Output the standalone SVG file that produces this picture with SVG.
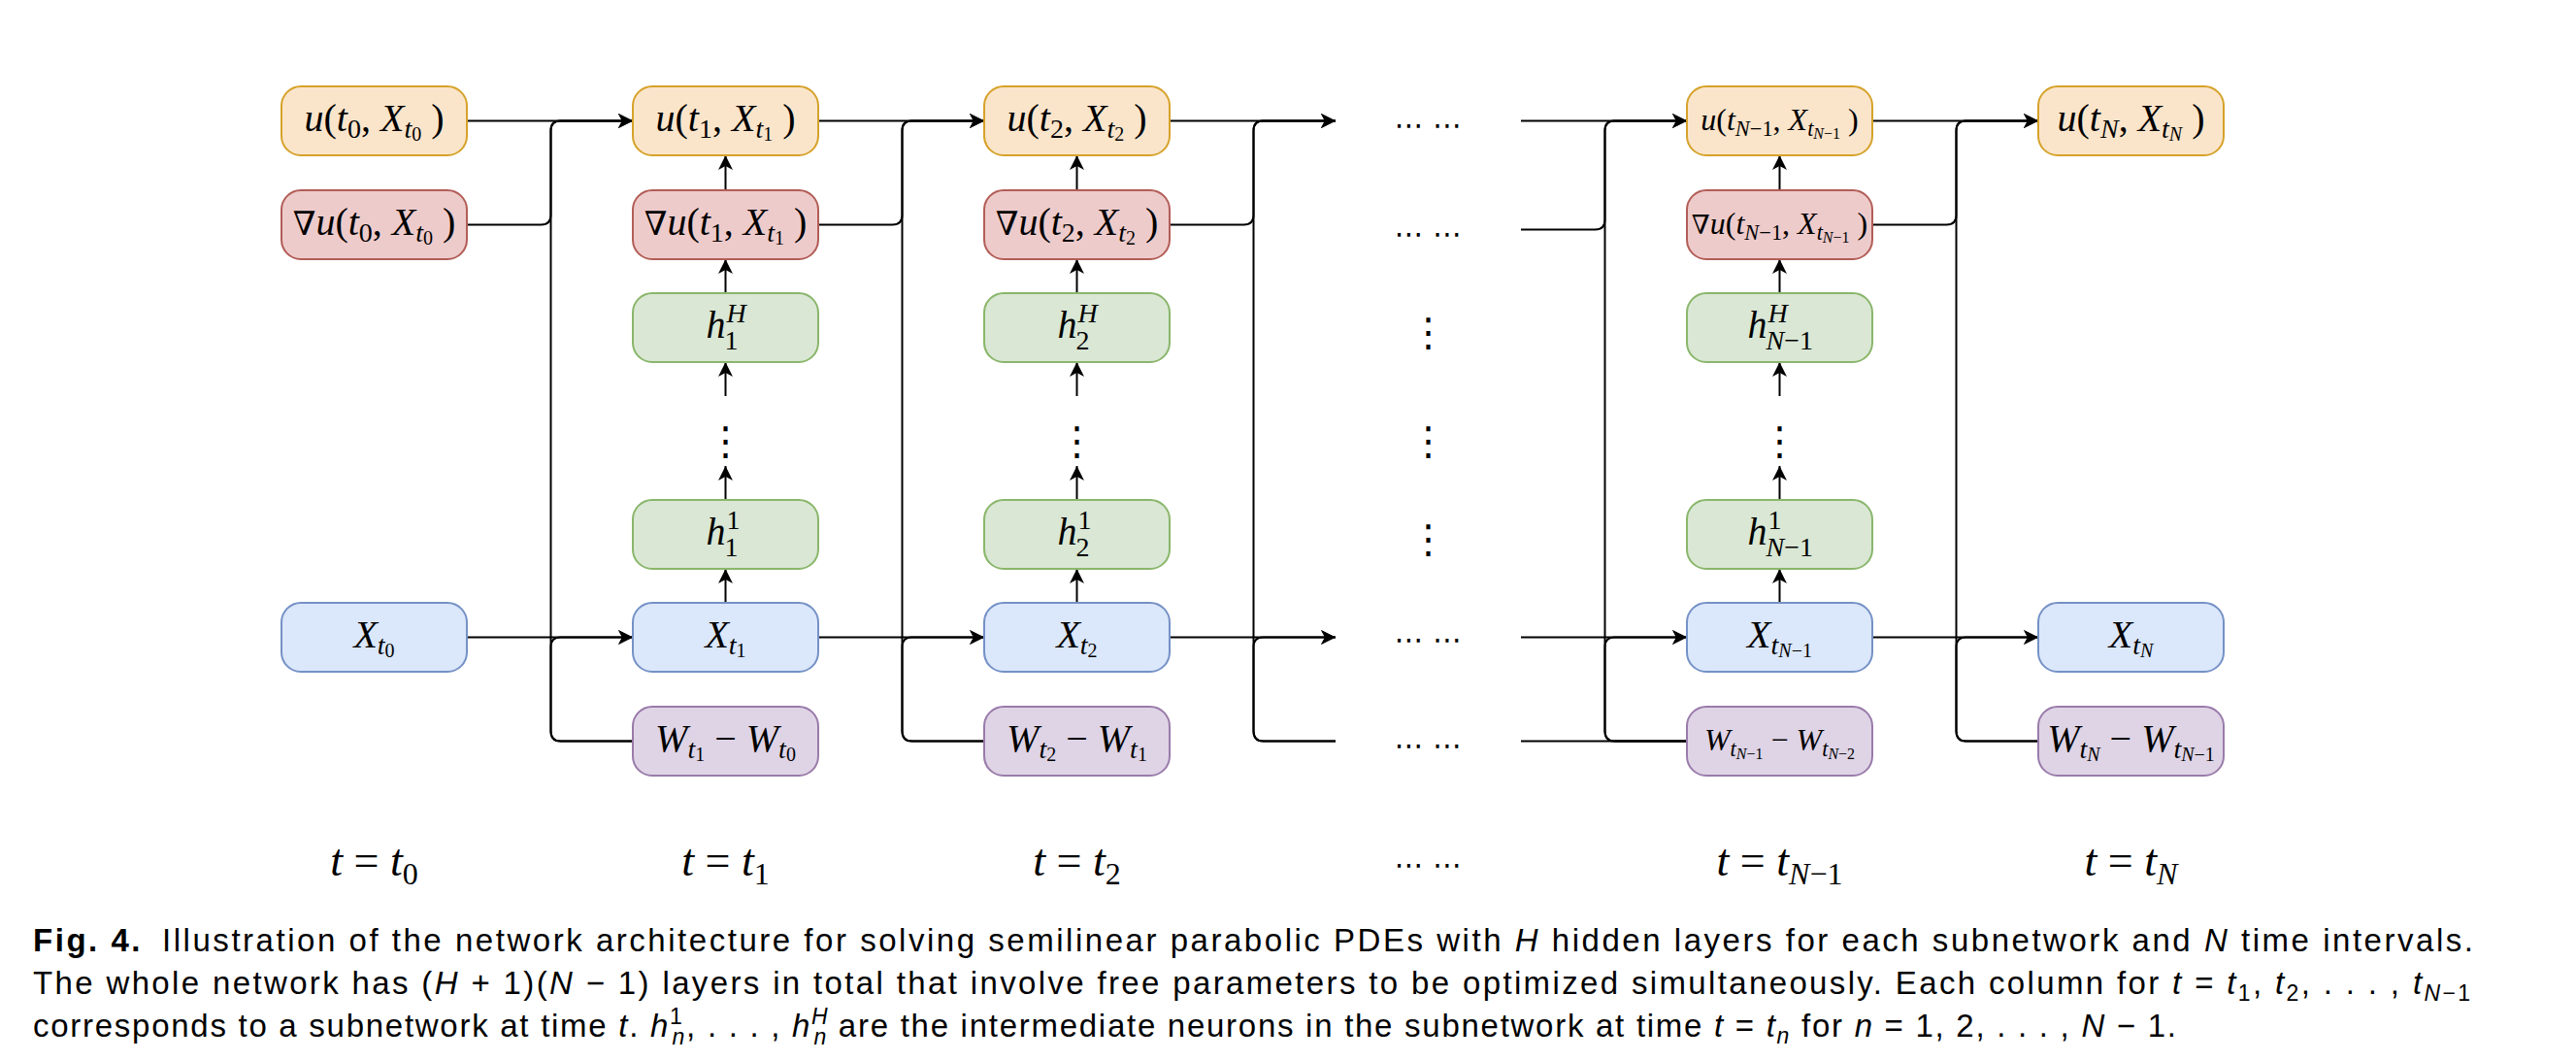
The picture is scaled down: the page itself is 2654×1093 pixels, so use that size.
<svg xmlns="http://www.w3.org/2000/svg" width="2654" height="1093" viewBox="0 0 2654 1093">
<defs>
<marker id="ar" markerUnits="userSpaceOnUse" markerWidth="16" markerHeight="16" refX="15" refY="7.5" orient="auto">
<path d="M0,0 L15,7.5 L0,15 L4,7.5 Z" fill="#000"/>
</marker>
<style>
.o{fill:#fae5cb;stroke:#d6a22a;stroke-width:2}
.r{fill:#eecbcb;stroke:#b25d57;stroke-width:2}
.g{fill:#d9e7d4;stroke:#8ab66b;stroke-width:2}
.b{fill:#dbe7fa;stroke:#7591c6;stroke-width:2}
.p{fill:#ded4e6;stroke:#9a7baa;stroke-width:2}
.m{font-family:"Liberation Serif","Times New Roman",serif;font-size:40px;fill:#000}
.m2{font-family:"Liberation Serif","Times New Roman",serif;font-size:32px;fill:#000}
.i{font-style:italic}
.n{font-family:"DejaVu Serif",serif;font-size:0.85em}
.s{font-size:28px}
.ss{font-size:20px}
.s2{font-size:22.4px}
.ss2{font-size:16px}
.t{font-family:"Liberation Serif","Times New Roman",serif;font-size:46px;fill:#000}
.ts{font-size:32px}
.dots{font-family:"DejaVu Sans",sans-serif;font-size:30px;fill:#000}
.vd{font-family:"DejaVu Sans",sans-serif;font-size:40px;fill:#000}
.c{font-family:"Liberation Sans",Arial,sans-serif;font-size:33px;fill:#000}
.ci{font-style:italic}
.cs{font-size:23px}
.e{fill:none;stroke:#000;stroke-width:2}
.ea{fill:none;stroke:#000;stroke-width:2;marker-end:url(#ar)}
</style>
</defs>
<rect width="2654" height="1093" fill="#fff"/>

<g id="connectors">
<path class="ea" d="M481,124.5 H652"/>
<path class="ea" d="M481,231.5 H557.5 Q567.5,231.5 567.5,221.5 V134.5 Q567.5,124.5 577.5,124.5 H652"/>
<path class="ea" d="M481,656.5 H652"/>
<path class="ea" d="M652,763.5 H577.5 Q567.5,763.5 567.5,753.5 V666.5 Q567.5,656.5 577.5,656.5 H652"/>
<path class="ea" d="M652,763.5 H577.5 Q567.5,763.5 567.5,753.5 V134.5 Q567.5,124.5 577.5,124.5 H652"/>
<path class="ea" d="M843,124.5 H1014"/>
<path class="ea" d="M843,231.5 H919.5 Q929.5,231.5 929.5,221.5 V134.5 Q929.5,124.5 939.5,124.5 H1014"/>
<path class="ea" d="M843,656.5 H1014"/>
<path class="ea" d="M1014,763.5 H939.5 Q929.5,763.5 929.5,753.5 V666.5 Q929.5,656.5 939.5,656.5 H1014"/>
<path class="ea" d="M1014,763.5 H939.5 Q929.5,763.5 929.5,753.5 V134.5 Q929.5,124.5 939.5,124.5 H1014"/>
<path class="ea" d="M1205,124.5 H1376"/>
<path class="ea" d="M1205,231.5 H1281.5 Q1291.5,231.5 1291.5,221.5 V134.5 Q1291.5,124.5 1301.5,124.5 H1376"/>
<path class="ea" d="M1205,656.5 H1376"/>
<path class="ea" d="M1376,763.5 H1301.5 Q1291.5,763.5 1291.5,753.5 V666.5 Q1291.5,656.5 1301.5,656.5 H1376"/>
<path class="ea" d="M1376,763.5 H1301.5 Q1291.5,763.5 1291.5,753.5 V134.5 Q1291.5,124.5 1301.5,124.5 H1376"/>
<path class="ea" d="M1567,124.5 H1738"/>
<path class="ea" d="M1567,236.5 H1643.5 Q1653.5,236.5 1653.5,226.5 V134.5 Q1653.5,124.5 1663.5,124.5 H1738"/>
<path class="ea" d="M1567,656.5 H1738"/>
<path class="e" d="M1567,763.5 H1738"/>
<path class="ea" d="M1738,763.5 H1663.5 Q1653.5,763.5 1653.5,753.5 V666.5 Q1653.5,656.5 1663.5,656.5 H1738"/>
<path class="ea" d="M1738,763.5 H1663.5 Q1653.5,763.5 1653.5,753.5 V134.5 Q1653.5,124.5 1663.5,124.5 H1738"/>
<path class="ea" d="M1929,124.5 H2100"/>
<path class="ea" d="M1929,231.5 H2005.5 Q2015.5,231.5 2015.5,221.5 V134.5 Q2015.5,124.5 2025.5,124.5 H2100"/>
<path class="ea" d="M1929,656.5 H2100"/>
<path class="ea" d="M2100,763.5 H2025.5 Q2015.5,763.5 2015.5,753.5 V666.5 Q2015.5,656.5 2025.5,656.5 H2100"/>
<path class="ea" d="M2100,763.5 H2025.5 Q2015.5,763.5 2015.5,753.5 V134.5 Q2015.5,124.5 2025.5,124.5 H2100"/>
<path class="ea" d="M747.5,196 V160"/>
<path class="ea" d="M747.5,302 V267"/>
<path class="ea" d="M747.5,408 V373"/>
<path class="ea" d="M747.5,515 V480"/>
<path class="ea" d="M747.5,621 V586"/>
<path class="ea" d="M1109.5,196 V160"/>
<path class="ea" d="M1109.5,302 V267"/>
<path class="ea" d="M1109.5,408 V373"/>
<path class="ea" d="M1109.5,515 V480"/>
<path class="ea" d="M1109.5,621 V586"/>
<path class="ea" d="M1833.5,196 V160"/>
<path class="ea" d="M1833.5,302 V267"/>
<path class="ea" d="M1833.5,408 V373"/>
<path class="ea" d="M1833.5,515 V480"/>
<path class="ea" d="M1833.5,621 V586"/>
</g>

<g id="u0"><rect class="o" x="290" y="89" width="191" height="71" rx="20"/>
<text class="m" x="385.5" y="135" text-anchor="middle"><tspan class="i">u</tspan>(<tspan class="i">t</tspan><tspan class="s" dy="7">0</tspan><tspan dy="-7">, </tspan><tspan class="i">X</tspan><tspan class="s i" dy="7">t</tspan><tspan class="ss" dy="3">0</tspan><tspan dy="-10"> )</tspan></text></g>
<g id="gu0"><rect class="r" x="290" y="196" width="191" height="71" rx="20"/>
<text class="m" x="385.5" y="242" text-anchor="middle"><tspan class="n">∇</tspan><tspan class="i">u</tspan>(<tspan class="i">t</tspan><tspan class="s" dy="7">0</tspan><tspan dy="-7">, </tspan><tspan class="i">X</tspan><tspan class="s i" dy="7">t</tspan><tspan class="ss" dy="3">0</tspan><tspan dy="-10"> )</tspan></text></g>
<g id="x0"><rect class="b" x="290" y="621" width="191" height="71" rx="20"/>
<text class="m" x="385.5" y="667" text-anchor="middle"><tspan class="i">X</tspan><tspan class="s i" dy="7">t</tspan><tspan class="ss" dy="3">0</tspan></text></g>

<g id="u1"><rect class="o" x="652" y="89" width="191" height="71" rx="20"/>
<text class="m" x="747.5" y="135" text-anchor="middle"><tspan class="i">u</tspan>(<tspan class="i">t</tspan><tspan class="s" dy="7">1</tspan><tspan dy="-7">, </tspan><tspan class="i">X</tspan><tspan class="s i" dy="7">t</tspan><tspan class="ss" dy="3">1</tspan><tspan dy="-10"> )</tspan></text></g>
<g id="gu1"><rect class="r" x="652" y="196" width="191" height="71" rx="20"/>
<text class="m" x="747.5" y="242" text-anchor="middle"><tspan class="n">∇</tspan><tspan class="i">u</tspan>(<tspan class="i">t</tspan><tspan class="s" dy="7">1</tspan><tspan dy="-7">, </tspan><tspan class="i">X</tspan><tspan class="s i" dy="7">t</tspan><tspan class="ss" dy="3">1</tspan><tspan dy="-10"> )</tspan></text></g>
<g id="hH1"><rect class="g" x="652" y="302" width="191" height="71" rx="20"/>
<text class="m i" x="727.5" y="348">h</text><text class="m i s" x="748.5" y="332">H</text><text class="m s" x="746.5" y="360">1</text></g>
<g id="vd1"><text class="vd" x="747.5" y="468" text-anchor="middle">⋮</text></g>
<g id="h11"><rect class="g" x="652" y="515" width="191" height="71" rx="20"/>
<text class="m i" x="727.5" y="561">h</text><text class="m s" x="748.5" y="545">1</text><text class="m s" x="746.5" y="573">1</text></g>
<g id="x1"><rect class="b" x="652" y="621" width="191" height="71" rx="20"/>
<text class="m" x="747.5" y="667" text-anchor="middle"><tspan class="i">X</tspan><tspan class="s i" dy="7">t</tspan><tspan class="ss" dy="3">1</tspan></text></g>
<g id="w1"><rect class="p" x="652" y="728" width="191" height="71" rx="20"/>
<text class="m" x="747.5" y="774" text-anchor="middle"><tspan class="i">W</tspan><tspan class="s i" dy="7">t</tspan><tspan class="ss" dy="3">1</tspan><tspan dy="-10"> − </tspan><tspan class="i">W</tspan><tspan class="s i" dy="7">t</tspan><tspan class="ss" dy="3">0</tspan></text></g>

<g id="u2"><rect class="o" x="1014" y="89" width="191" height="71" rx="20"/>
<text class="m" x="1109.5" y="135" text-anchor="middle"><tspan class="i">u</tspan>(<tspan class="i">t</tspan><tspan class="s" dy="7">2</tspan><tspan dy="-7">, </tspan><tspan class="i">X</tspan><tspan class="s i" dy="7">t</tspan><tspan class="ss" dy="3">2</tspan><tspan dy="-10"> )</tspan></text></g>
<g id="gu2"><rect class="r" x="1014" y="196" width="191" height="71" rx="20"/>
<text class="m" x="1109.5" y="242" text-anchor="middle"><tspan class="n">∇</tspan><tspan class="i">u</tspan>(<tspan class="i">t</tspan><tspan class="s" dy="7">2</tspan><tspan dy="-7">, </tspan><tspan class="i">X</tspan><tspan class="s i" dy="7">t</tspan><tspan class="ss" dy="3">2</tspan><tspan dy="-10"> )</tspan></text></g>
<g id="hH2"><rect class="g" x="1014" y="302" width="191" height="71" rx="20"/>
<text class="m i" x="1089.5" y="348">h</text><text class="m i s" x="1110.5" y="332">H</text><text class="m s" x="1108.5" y="360">2</text></g>
<g id="vd2"><text class="vd" x="1109.5" y="468" text-anchor="middle">⋮</text></g>
<g id="h12"><rect class="g" x="1014" y="515" width="191" height="71" rx="20"/>
<text class="m i" x="1089.5" y="561">h</text><text class="m s" x="1110.5" y="545">1</text><text class="m s" x="1108.5" y="573">2</text></g>
<g id="x2"><rect class="b" x="1014" y="621" width="191" height="71" rx="20"/>
<text class="m" x="1109.5" y="667" text-anchor="middle"><tspan class="i">X</tspan><tspan class="s i" dy="7">t</tspan><tspan class="ss" dy="3">2</tspan></text></g>
<g id="w2"><rect class="p" x="1014" y="728" width="191" height="71" rx="20"/>
<text class="m" x="1109.5" y="774" text-anchor="middle"><tspan class="i">W</tspan><tspan class="s i" dy="7">t</tspan><tspan class="ss" dy="3">2</tspan><tspan dy="-10"> − </tspan><tspan class="i">W</tspan><tspan class="s i" dy="7">t</tspan><tspan class="ss" dy="3">1</tspan></text></g>

<g id="du"><text class="dots" x="1471.5" y="139" text-anchor="middle">⋯ ⋯</text></g>
<g id="dg"><text class="dots" x="1471.5" y="251" text-anchor="middle">⋯ ⋯</text></g>
<g id="dh"><text class="vd" x="1471.5" y="356" text-anchor="middle">⋮</text></g>
<g id="dd"><text class="vd" x="1471.5" y="468" text-anchor="middle">⋮</text></g>
<g id="dh1"><text class="vd" x="1471.5" y="569" text-anchor="middle">⋮</text></g>
<g id="dx"><text class="dots" x="1471.5" y="669" text-anchor="middle">⋯ ⋯</text></g>
<g id="dw"><text class="dots" x="1471.5" y="778" text-anchor="middle">⋯ ⋯</text></g>

<g id="u4"><rect class="o" x="1738" y="89" width="191" height="71" rx="20"/>
<text class="m2" x="1833.5" y="134" text-anchor="middle"><tspan class="i">u</tspan>(<tspan class="i">t</tspan><tspan class="s2" dy="6"><tspan class="i">N</tspan>−1</tspan><tspan dy="-6">, </tspan><tspan class="i">X</tspan><tspan class="s2 i" dy="6">t</tspan><tspan class="ss2" dy="3"><tspan class="i">N</tspan>−1</tspan><tspan dy="-9"> )</tspan></text></g>
<g id="gu4"><rect class="r" x="1738" y="196" width="191" height="71" rx="20"/>
<text class="m2" x="1833.5" y="241" text-anchor="middle"><tspan class="n">∇</tspan><tspan class="i">u</tspan>(<tspan class="i">t</tspan><tspan class="s2" dy="6"><tspan class="i">N</tspan>−1</tspan><tspan dy="-6">, </tspan><tspan class="i">X</tspan><tspan class="s2 i" dy="6">t</tspan><tspan class="ss2" dy="3"><tspan class="i">N</tspan>−1</tspan><tspan dy="-9"> )</tspan></text></g>
<g id="hH4"><rect class="g" x="1738" y="302" width="191" height="71" rx="20"/>
<text class="m i" x="1800.5" y="348">h</text><text class="m i s" x="1821.5" y="332">H</text><text class="m s" x="1819.5" y="360"><tspan class="i">N</tspan>−1</text></g>
<g id="vd4"><text class="vd" x="1833.5" y="468" text-anchor="middle">⋮</text></g>
<g id="h14"><rect class="g" x="1738" y="515" width="191" height="71" rx="20"/>
<text class="m i" x="1800.5" y="561">h</text><text class="m s" x="1821.5" y="545">1</text><text class="m s" x="1819.5" y="573"><tspan class="i">N</tspan>−1</text></g>
<g id="x4"><rect class="b" x="1738" y="621" width="191" height="71" rx="20"/>
<text class="m" x="1833.5" y="667" text-anchor="middle"><tspan class="i">X</tspan><tspan class="s i" dy="7">t</tspan><tspan class="ss" dy="3"><tspan class="i">N</tspan>−1</tspan></text></g>
<g id="w4"><rect class="p" x="1738" y="728" width="191" height="71" rx="20"/>
<text class="m2" x="1833.5" y="773" text-anchor="middle"><tspan class="i">W</tspan><tspan class="s2 i" dy="6">t</tspan><tspan class="ss2" dy="3"><tspan class="i">N</tspan>−1</tspan><tspan dy="-9"> − </tspan><tspan class="i">W</tspan><tspan class="s2 i" dy="6">t</tspan><tspan class="ss2" dy="3"><tspan class="i">N</tspan>−2</tspan></text></g>

<g id="u5"><rect class="o" x="2100" y="89" width="191" height="71" rx="20"/>
<text class="m" x="2195.5" y="135" text-anchor="middle"><tspan class="i">u</tspan>(<tspan class="i">t</tspan><tspan class="s i" dy="7">N</tspan><tspan dy="-7">, </tspan><tspan class="i">X</tspan><tspan class="s i" dy="7">t</tspan><tspan class="ss i" dy="3">N</tspan><tspan dy="-10"> )</tspan></text></g>
<g id="x5"><rect class="b" x="2100" y="621" width="191" height="71" rx="20"/>
<text class="m" x="2195.5" y="667" text-anchor="middle"><tspan class="i">X</tspan><tspan class="s i" dy="7">t</tspan><tspan class="ss i" dy="3">N</tspan></text></g>
<g id="w5"><rect class="p" x="2100" y="728" width="191" height="71" rx="20"/>
<text class="m" x="2195.5" y="774" text-anchor="middle"><tspan class="i">W</tspan><tspan class="s i" dy="7">t</tspan><tspan class="ss i" dy="3">N</tspan><tspan dy="-10"> − </tspan><tspan class="i">W</tspan><tspan class="s i" dy="7">t</tspan><tspan class="ss" dy="3"><tspan class="i">N</tspan>−1</tspan></text></g>

<g id="time-labels">
<text class="t" x="385.5" y="902" text-anchor="middle"><tspan class="i">t</tspan> = <tspan class="i">t</tspan><tspan class="ts" dy="9">0</tspan></text>
<text class="t" x="747.5" y="902" text-anchor="middle"><tspan class="i">t</tspan> = <tspan class="i">t</tspan><tspan class="ts" dy="9">1</tspan></text>
<text class="t" x="1109.5" y="902" text-anchor="middle"><tspan class="i">t</tspan> = <tspan class="i">t</tspan><tspan class="ts" dy="9">2</tspan></text>
<text class="dots" x="1471.5" y="901" text-anchor="middle">⋯ ⋯</text>
<text class="t" x="1833.5" y="902" text-anchor="middle"><tspan class="i">t</tspan> = <tspan class="i">t</tspan><tspan class="ts" dy="9"><tspan class="i">N</tspan>−1</tspan></text>
<text class="t" x="2195.5" y="902" text-anchor="middle"><tspan class="i">t</tspan> = <tspan class="i">t</tspan><tspan class="ts i" dy="9">N</tspan></text>
</g>

<g id="caption">
<text class="c" x="34" y="980" textLength="2514" lengthAdjust="spacing"><tspan font-weight="bold">Fig. 4.</tspan><tspan dx="20">Illustration of the network architecture for solving semilinear parabolic PDEs with </tspan><tspan class="ci">H</tspan> hidden layers for each subnetwork and <tspan class="ci">N</tspan> time intervals.</text>
<text class="c" x="34" y="1024" textLength="2511" lengthAdjust="spacing">The whole network has (<tspan class="ci">H</tspan> + 1)(<tspan class="ci">N</tspan> − 1) layers in total that involve free parameters to be optimized simultaneously. Each column for <tspan class="ci">t</tspan> = <tspan class="ci">t</tspan><tspan class="cs" dy="7">1</tspan><tspan dy="-7">, </tspan><tspan class="ci">t</tspan><tspan class="cs" dy="7">2</tspan><tspan dy="-7">, . . . , </tspan><tspan class="ci">t</tspan><tspan class="cs" dy="7"><tspan class="ci">N</tspan>−1</tspan></text>
<text class="c" x="34" y="1068" textLength="2208" lengthAdjust="spacing">corresponds to a subnetwork at time <tspan class="ci">t</tspan>. <tspan class="ci">h</tspan><tspan class="cs" dy="-13">1</tspan><tspan class="cs ci" dx="-12" dy="21">n</tspan><tspan dy="-8">, . . . , </tspan><tspan class="ci">h</tspan><tspan class="cs ci" dy="-13">H</tspan><tspan class="cs ci" dx="-16" dy="21">n</tspan><tspan dy="-8"> are the intermediate neurons in the subnetwork at time </tspan><tspan class="ci">t</tspan> = <tspan class="ci">t</tspan><tspan class="cs ci" dy="7">n</tspan><tspan dy="-7"> for </tspan><tspan class="ci">n</tspan> = 1, 2, . . . , <tspan class="ci">N</tspan> − 1.</text>
</g>
</svg>
